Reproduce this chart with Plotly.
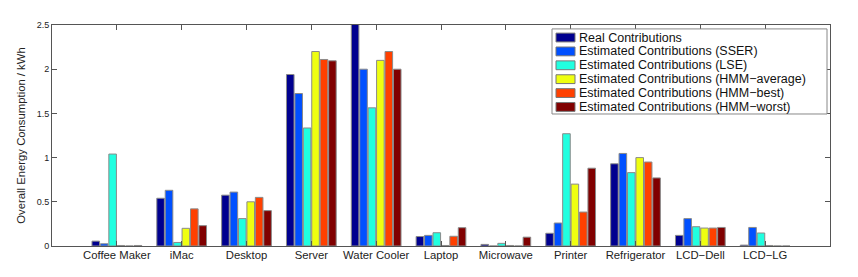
import plotly.graph_objects as go

categories = ["Coffee Maker", "iMac", "Desktop", "Server", "Water Cooler", "Laptop",
              "Microwave", "Printer", "Refrigerator", "LCD\u2212Dell", "LCD\u2212LG"]

real = [0.055, 0.54, 0.575, 1.94, 2.55, 0.107, 0.018, 0.144, 0.93, 0.12, 0.01]
sser = [0.025, 0.63, 0.61, 1.725, 2.0, 0.12, 0.0, 0.26, 1.047, 0.31, 0.21]
lse = [1.04, 0.04, 0.31, 1.335, 1.563, 0.15, 0.03, 1.27, 0.83, 0.218, 0.147]
hmm_avg = [0.006, 0.2, 0.5, 2.2, 2.1, 0.006, 0.006, 0.70, 1.0, 0.203, 0.006]
hmm_best = [0.0, 0.42, 0.55, 2.11, 2.2, 0.11, 0.0, 0.384, 0.95, 0.203, 0.0]
hmm_worst = [0.006, 0.23, 0.40, 2.095, 2.0, 0.207, 0.10, 0.88, 0.77, 0.21, 0.0]

series_names = ["Real Contributions",
                "Estimated Contributions (SSER)",
                "Estimated Contributions (LSE)",
                "Estimated Contributions (HMM\u2212average)",
                "Estimated Contributions (HMM\u2212best)",
                "Estimated Contributions (HMM\u2212worst)"]
series_values = [real, sser, lse, hmm_avg, hmm_best, hmm_worst]
series_colors = ["#00008F", "#0050FF", "#20FFE0", "#EFFF10", "#FF4000", "#800000"]

y_ticks = [0, 0.5, 1, 1.5, 2, 2.5]
y_ticktext = ["0", "0.5", "1", "1.5", "2", "2.5"]

font_family = "Liberation Sans, Arial, sans-serif"

# The page body has an 8px default margin, so the figure is drawn 8px smaller.
OFF = 8
W, H = 858 - OFF, 277 - OFF
ML, MR, MT, MB = 52 - OFF, 28, 20 - OFF, 31
plot_w = W - ML - MR
plot_h = H - MT - MB


def px_x(px):  # page pixel -> paper x
    return (px - OFF - ML) / plot_w


def px_y(py):  # page pixel -> paper y
    return (OFF + H - MB - py) / plot_h


fig = go.Figure()
for name, vals, col in zip(series_names, series_values, series_colors):
    fig.add_trace(go.Bar(
        x=categories, y=vals, name=name,
        marker=dict(color=col, line=dict(color="#8a8a8a", width=1)),
    ))

# Compact MATLAB-style legend drawn with shapes and annotations
shapes = [dict(type="rect", xref="paper", yref="paper",
               x0=px_x(552), x1=px_x(827), y0=px_y(111), y1=px_y(24),
               fillcolor="white", line=dict(color="#888888", width=1), layer="above")]
annotations = []
for i, (name, col) in enumerate(zip(series_names, series_colors)):
    cy = 32.8 + 14.2 * i
    shapes.append(dict(type="rect", xref="paper", yref="paper",
                       x0=px_x(556), x1=px_x(575), y0=px_y(cy + 4.5), y1=px_y(cy - 4.5),
                       fillcolor=col, line=dict(color="#777777", width=1), layer="above"))
    annotations.append(dict(xref="paper", yref="paper", x=px_x(577), y=px_y(cy),
                            xanchor="left", yanchor="middle", showarrow=False,
                            text=name, font=dict(size=12.5, color="#111111", family=font_family)))

fig.update_layout(
    width=W, height=H,
    margin=dict(l=ML, r=MR, t=MT, b=MB),
    paper_bgcolor="white", plot_bgcolor="white",
    barmode="group", bargap=0.22, bargroupgap=0.1,
    font=dict(family=font_family, color="#222222", size=10),
    showlegend=False,
    shapes=shapes, annotations=annotations,
    xaxis=dict(
        type="category", range=[-1, 11],
        showline=True, linecolor="#555555", linewidth=1, mirror="ticks",
        ticks="inside", ticklen=5, tickcolor="#555555",
        tickfont=dict(size=11.3, color="#222222"),
        ticklabelstandoff=-2,
        showgrid=False, zeroline=False,
    ),
    yaxis=dict(
        range=[0, 2.5], tickvals=y_ticks, ticktext=y_ticktext,
        showline=True, linecolor="#555555", linewidth=1, mirror="ticks",
        ticks="inside", ticklen=5, tickcolor="#555555",
        tickfont=dict(size=9, color="#222222"),
        showgrid=False, zeroline=False,
        title=dict(text="Overall Energy Consumption / kWh",
                   font=dict(size=11.3, color="#222222"), standoff=8),
    ),
)

fig.write_html("out.html")
